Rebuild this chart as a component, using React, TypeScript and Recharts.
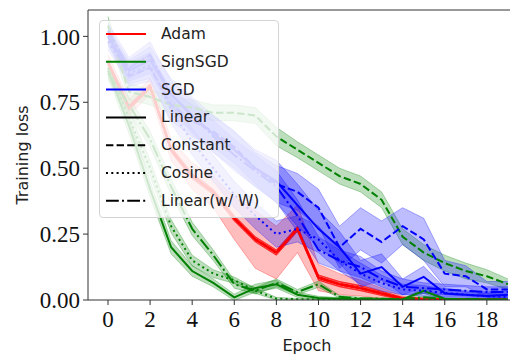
import React from 'react';
import { ComposedChart, Line, Area, XAxis, YAxis, ReferenceLine } from 'recharts';

const epochs = [0, 1, 2, 3, 4, 5, 6, 7, 8, 9, 10, 11, 12, 13, 14, 15, 16, 17, 18, 19];
const xTicks = [0, 2, 4, 6, 8, 10, 12, 14, 16, 18];
const yTicks = [0, 0.25, 0.5, 0.75, 1.0];

// Adam (the four schedules overlap almost exactly in the picture)
const adamLinear = [0.90, 0.73, 0.81, 0.57, 0.47, 0.41, 0.31, 0.23, 0.18, 0.27, 0.085, 0.06, 0.045, 0.025, 0.005, 0.003, 0.002, 0.002, 0.001, 0.001];
const adamLinearStd = [0.03, 0.03, 0.03, 0.04, 0.05, 0.06, 0.08, 0.11, 0.10, 0.09, 0.05, 0.04, 0.03, 0.02, 0.01, 0.005, 0.003, 0.003, 0.002, 0.002];
const adamConstant = [0.90, 0.73, 0.81, 0.57, 0.47, 0.41, 0.31, 0.23, 0.18, 0.27, 0.085, 0.06, 0.045, 0.025, 0.006, 0.004, 0.003, 0.002, 0.002, 0.002];
const adamConstantStd = [0.01, 0.01, 0.01, 0.01, 0.01, 0.01, 0.01, 0.01, 0.01, 0.01, 0.01, 0.01, 0.01, 0.008, 0.005, 0.003, 0.002, 0.002, 0.001, 0.001];
const adamCosine = [0.90, 0.73, 0.81, 0.57, 0.47, 0.41, 0.31, 0.23, 0.18, 0.27, 0.085, 0.06, 0.045, 0.025, 0.005, 0.004, 0.003, 0.002, 0.001, 0.001];
const adamCosineStd = [0.01, 0.01, 0.01, 0.01, 0.01, 0.01, 0.01, 0.01, 0.01, 0.01, 0.01, 0.01, 0.01, 0.008, 0.005, 0.003, 0.002, 0.002, 0.001, 0.001];
const adamLinearW = [0.90, 0.73, 0.81, 0.57, 0.47, 0.41, 0.31, 0.23, 0.18, 0.27, 0.085, 0.06, 0.045, 0.025, 0.005, 0.003, 0.002, 0.002, 0.001, 0.001];
const adamLinearWStd = [0.01, 0.01, 0.01, 0.01, 0.01, 0.01, 0.01, 0.01, 0.01, 0.01, 0.01, 0.01, 0.01, 0.008, 0.005, 0.003, 0.002, 0.002, 0.001, 0.001];

// SignSGD
const signLinear = [0.87, 0.66, 0.42, 0.20, 0.11, 0.065, 0.01, 0.045, 0.06, 0.02, 0.008, 0.005, 0.004, 0.003, 0.002, 0.035, 0.004, 0.003, 0.002, 0.002];
const signLinearStd = [0.025, 0.03, 0.03, 0.025, 0.02, 0.015, 0.012, 0.015, 0.015, 0.01, 0.006, 0.004, 0.003, 0.003, 0.002, 0.01, 0.004, 0.003, 0.002, 0.002];
const signConstant = [1.04, 0.79, 0.77, 0.74, 0.73, 0.71, 0.71, 0.70, 0.62, 0.57, 0.52, 0.47, 0.44, 0.38, 0.24, 0.18, 0.14, 0.11, 0.09, 0.06];
const signConstantStd = [0.035, 0.03, 0.03, 0.03, 0.03, 0.03, 0.03, 0.03, 0.035, 0.03, 0.03, 0.03, 0.03, 0.03, 0.03, 0.03, 0.03, 0.03, 0.025, 0.02];
const signCosine = [0.88, 0.69, 0.50, 0.28, 0.15, 0.10, 0.075, 0.035, 0.005, 0.003, 0.002, 0.002, 0.001, 0.001, 0.001, 0.001, 0.001, 0.001, 0.001, 0.001];
const signCosineStd = [0.025, 0.03, 0.03, 0.025, 0.02, 0.015, 0.012, 0.01, 0.005, 0.003, 0.002, 0.002, 0.001, 0.001, 0.001, 0.001, 0.001, 0.001, 0.001, 0.001];
const signLinearW = [0.86, 0.74, 0.61, 0.43, 0.27, 0.17, 0.06, 0.035, 0.065, 0.03, 0.06, 0.012, 0.006, 0.005, 0.003, 0.01, 0.005, 0.003, 0.002, 0.002];
const signLinearWStd = [0.025, 0.03, 0.03, 0.03, 0.025, 0.02, 0.015, 0.012, 0.015, 0.01, 0.012, 0.005, 0.004, 0.003, 0.002, 0.005, 0.003, 0.002, 0.002, 0.002];

// SGD
const sgdLinear = [1.00, 0.87, 0.91, 0.78, 0.70, 0.63, 0.57, 0.50, 0.45, 0.36, 0.27, 0.20, 0.10, 0.125, 0.05, 0.088, 0.025, 0.02, 0.015, 0.02];
const sgdLinearStd = [0.03, 0.04, 0.05, 0.06, 0.07, 0.07, 0.07, 0.07, 0.08, 0.08, 0.07, 0.06, 0.05, 0.05, 0.03, 0.04, 0.02, 0.015, 0.015, 0.015];
const sgdConstant = [1.00, 0.85, 0.88, 0.74, 0.68, 0.64, 0.58, 0.50, 0.44, 0.41, 0.35, 0.20, 0.27, 0.22, 0.28, 0.23, 0.10, 0.09, 0.04, 0.04];
const sgdConstantStd = [0.03, 0.04, 0.05, 0.06, 0.06, 0.06, 0.06, 0.06, 0.07, 0.07, 0.07, 0.08, 0.08, 0.08, 0.07, 0.08, 0.05, 0.04, 0.03, 0.03];
const sgdCosine = [0.98, 0.86, 0.89, 0.72, 0.60, 0.50, 0.40, 0.32, 0.25, 0.27, 0.23, 0.15, 0.10, 0.064, 0.04, 0.035, 0.027, 0.02, 0.015, 0.012];
const sgdCosineStd = [0.03, 0.04, 0.05, 0.05, 0.05, 0.05, 0.05, 0.05, 0.05, 0.05, 0.05, 0.04, 0.04, 0.03, 0.02, 0.02, 0.015, 0.01, 0.01, 0.01];
const sgdLinearW = [1.02, 0.88, 0.93, 0.78, 0.70, 0.62, 0.55, 0.49, 0.43, 0.32, 0.19, 0.15, 0.125, 0.08, 0.05, 0.045, 0.04, 0.035, 0.03, 0.03];
const sgdLinearWStd = [0.03, 0.04, 0.05, 0.05, 0.06, 0.06, 0.06, 0.06, 0.06, 0.06, 0.05, 0.04, 0.04, 0.03, 0.03, 0.02, 0.02, 0.02, 0.02, 0.02];

const RED = '#ff0000';
const GREEN = '#008000';
const BLUE = '#0000ff';

const DASH: Record<string, string | undefined> = {
  solid: undefined,
  dashed: '7.4 3.2',
  dotted: '2 3.3',
  dashdot: '12.8 3.2 2 3.2',
};

const series = [
  { key: 'adamConstant', color: RED, dash: 'dashed', mean: adamConstant, std: adamConstantStd },
  { key: 'adamCosine', color: RED, dash: 'dotted', mean: adamCosine, std: adamCosineStd },
  { key: 'adamLinearW', color: RED, dash: 'dashdot', mean: adamLinearW, std: adamLinearWStd },
  { key: 'adamLinear', color: RED, dash: 'solid', mean: adamLinear, std: adamLinearStd },
  { key: 'signLinear', color: GREEN, dash: 'solid', mean: signLinear, std: signLinearStd },
  { key: 'signConstant', color: GREEN, dash: 'dashed', mean: signConstant, std: signConstantStd },
  { key: 'signCosine', color: GREEN, dash: 'dotted', mean: signCosine, std: signCosineStd },
  { key: 'signLinearW', color: GREEN, dash: 'dashdot', mean: signLinearW, std: signLinearWStd },
  { key: 'sgdLinear', color: BLUE, dash: 'solid', mean: sgdLinear, std: sgdLinearStd },
  { key: 'sgdConstant', color: BLUE, dash: 'dashed', mean: sgdConstant, std: sgdConstantStd },
  { key: 'sgdCosine', color: BLUE, dash: 'dotted', mean: sgdCosine, std: sgdCosineStd },
  { key: 'sgdLinearW', color: BLUE, dash: 'dashdot', mean: sgdLinearW, std: sgdLinearWStd },
];

const rows = epochs.map((e, i) => {
  const r: Record<string, any> = { epoch: e };
  series.forEach((s) => {
    r[s.key] = s.mean[i];
    r[s.key + 'Band'] = [s.mean[i] - s.std[i], s.mean[i] + s.std[i]];
  });
  return r;
});

const legendItems = [
  { label: 'Adam', color: RED, dash: 'solid' },
  { label: 'SignSGD', color: GREEN, dash: 'solid' },
  { label: 'SGD', color: BLUE, dash: 'solid' },
  { label: 'Linear', color: '#000', dash: 'solid' },
  { label: 'Constant', color: '#000', dash: 'dashed' },
  { label: 'Cosine', color: '#000', dash: 'dotted' },
  { label: 'Linear(w/ W)', color: '#000', dash: 'dashdot' },
];

const W = 510;
const H = 346;

export default function App() {
  const elems: React.ReactNode[] = [];
  series.forEach((s) => {
    elems.push(
      <Area
        key={s.key + 'Band'}
        dataKey={s.key + 'Band'}
        type="linear"
        stroke={s.color}
        strokeOpacity={0.3}
        strokeWidth={1}
        fill={s.color}
        fillOpacity={0.26}
        dot={false}
        activeDot={false}
        isAnimationActive={false}
      />
    );
    elems.push(
      <Line
        key={s.key}
        dataKey={s.key}
        type="linear"
        stroke={s.color}
        strokeWidth={2}
        strokeDasharray={DASH[s.dash]}
        dot={false}
        activeDot={false}
        isAnimationActive={false}
      />
    );
  });

  return (
    <div style={{ position: 'relative', width: W, height: H }}>
      <ComposedChart width={W} height={H} data={rows} margin={{ top: 2, right: 0, bottom: 0, left: 0 }}>
        <XAxis
          dataKey="epoch"
          type="number"
          domain={[-0.95, 19.48]}
          ticks={xTicks}
          allowDataOverflow
          height={54}
          tickSize={5}
          tickMargin={6}
          stroke="#333"
          tick={{ fill: '#111', fontFamily: 'Liberation Serif', fontSize: 23 }}
        />
        <YAxis
          type="number"
          domain={[0, 1.1]}
          ticks={yTicks}
          allowDataOverflow
          width={80}
          tickSize={5}
          tickMargin={3}
          stroke="#333"
          tickFormatter={(v: number) => v.toFixed(2)}
          tick={{ fill: '#111', fontFamily: 'Liberation Serif', fontSize: 23 }}
        />
        <ReferenceLine y={1.1} stroke="#333" strokeWidth={1} />
        {elems}
      </ComposedChart>
      <svg width={W} height={H} style={{ position: 'absolute', left: 0, top: 0, pointerEvents: 'none' }}>
        <text x={299} y={337} textAnchor="middle" dominantBaseline="central" fontFamily="DejaVu Sans" fontSize={16} fill="#222">
          Epoch
        </text>
        <text
          x={14}
          y={147}
          textAnchor="middle"
          dominantBaseline="central"
          fontFamily="DejaVu Sans"
          fontSize={16}
          fill="#222"
          transform="rotate(-90 14 147)"
        >
          Training loss
        </text>
      </svg>
      <div
        style={{
          position: 'absolute',
          left: 91,
          top: 12,
          width: 180,
          height: 198,
          background: 'rgba(255,255,255,0.8)',
          border: '1px solid #d4d4d4',
          borderRadius: 4,
          boxSizing: 'border-box',
        }}
      >
        <svg width={180} height={198} style={{ position: 'absolute', left: -1, top: -1 }}>
          {legendItems.map((it, i) => {
            const cy = 14 + i * 27.8;
            return (
              <g key={it.label}>
                <line x1={7} x2={47} y1={cy} y2={cy} stroke={it.color} strokeWidth={2} strokeDasharray={DASH[it.dash]} />
                <text x={62} y={cy} dominantBaseline="central" fontFamily="DejaVu Sans" fontSize={15.5} fill="#222">
                  {it.label}
                </text>
              </g>
            );
          })}
        </svg>
      </div>
    </div>
  );
}
